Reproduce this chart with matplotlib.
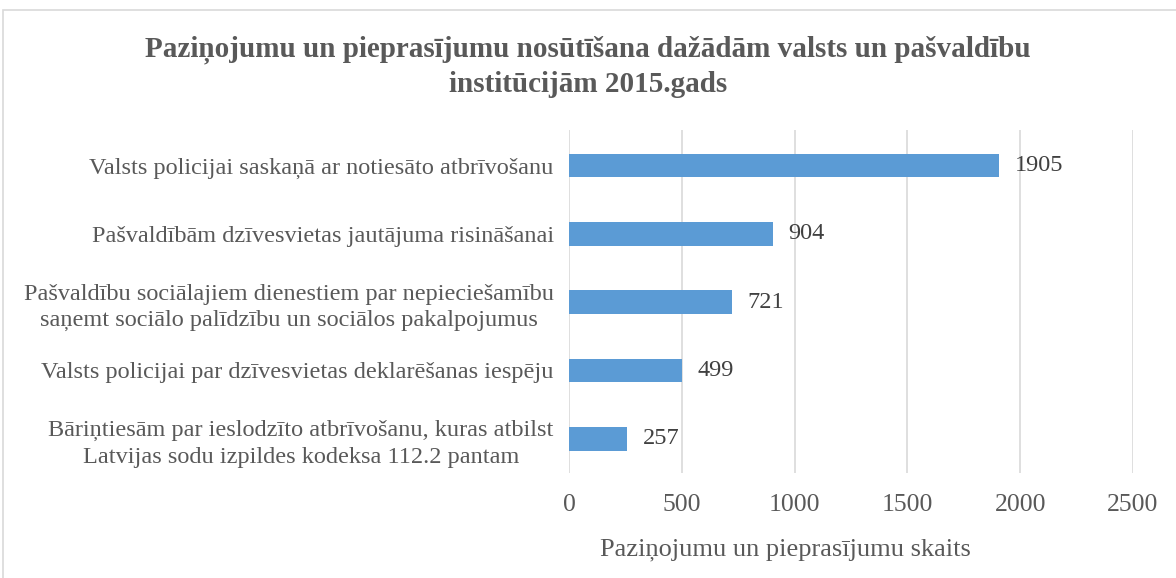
import matplotlib.pyplot as plt
from matplotlib.patches import Rectangle

# dati
categories = [
    'Valsts policijai saskaņā ar notiesāto atbrīvošanu',
    'Pašvaldībām dzīvesvietas jautājuma risināšanai',
    'Pašvaldību sociālajiem dienestiem par nepieciešamību\nsaņemt sociālo palīdzību un sociālos pakalpojumus',
    'Valsts policijai par dzīvesvietas deklarēšanas iespēju',
    'Bāriņtiesām par ieslodzīto atbrīvošanu, kuras atbilst\nLatvijas sodu izpildes kodeksa 112.2 pantam',
]
values = [1905, 904, 721, 499, 257]
xticks = [0, 500, 1000, 1500, 2000, 2500]

title = 'Paziņojumu un pieprasījumu nosūtīšana dažādām valsts un pašvaldību\ninstitūcijām 2015.gads'
xlabel = 'Paziņojumu un pieprasījumu skaits'

plt.rcParams['font.family'] = ['Liberation Serif', 'DejaVu Serif']
text_col = '#595959'

fig = plt.figure(figsize=(11.76, 5.78), dpi=100)
ax = fig.add_axes([0.4838, 0.1817, 0.4796, 0.5934])

pos = list(range(len(categories)))
ax.barh(pos, values, height=0.35, color='#5B9BD5', zorder=3)
ax.set_ylim(4.5, -0.52)
ax.set_xlim(0, 2500)
ax.set_xticks(xticks)
ax.set_yticks(pos)
ax.set_yticklabels(categories, fontsize=17.5, color=text_col,
                   multialignment='center', linespacing=1.35)
ax.tick_params(axis='y', length=0, pad=11)
ax.tick_params(axis='x', length=0, pad=15, labelsize=18.5, labelcolor=text_col)
ax.grid(axis='x', color='#D9D9D9', linewidth=1.2, zorder=0)
for s in ax.spines.values():
    s.set_visible(False)

# vērtību uzraksti pie stabiņiem
for p, v in zip(pos, values):
    ax.text(v + 70, p, str(v), va='center', ha='left', fontsize=17.5, color='#404040')

ax.set_xlabel(xlabel, fontsize=19, color=text_col)
ax.xaxis.label.set_va('center')
ax.xaxis.set_label_coords(0.383, -0.225)

fig.text(0.5, 0.885, title, ha='center', va='center', fontsize=21,
         fontweight='bold', color=text_col, linespacing=1.33)

# rāmis ap attēlu
fig.patches.append(Rectangle((3 / 1176, -0.01), 1.1, 0.993, transform=fig.transFigure,
                             fill=False, edgecolor='#D9D9D9', linewidth=1.2))

fig.savefig('out.png', dpi=100)
